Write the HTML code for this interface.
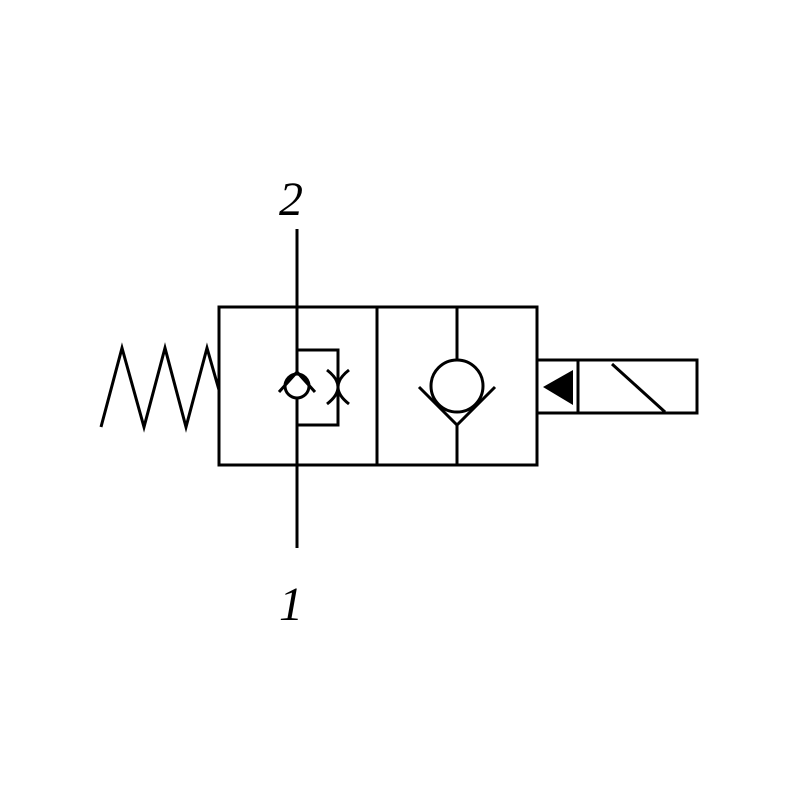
<!DOCTYPE html>
<html><head><meta charset="utf-8"><style>
html,body{margin:0;padding:0;background:#fff;}
svg{display:block;}
</style></head><body>
<svg width="800" height="800" viewBox="0 0 800 800" xmlns="http://www.w3.org/2000/svg">
<g fill="none" stroke="#000" stroke-width="3">
  <line x1="297" y1="229" x2="297" y2="548"/>
  <rect x="219" y="307" width="318" height="158"/>
  <line x1="377" y1="307" x2="377" y2="465"/>
  <polyline points="101,427 122,348 144,427 165,348 186,427 207,348 219,390"/>
  <circle cx="297" cy="386" r="12" fill="#fff"/>
  <polyline points="279,392 297,372 315,392"/>
  <polyline points="297,350 338,350 338,425 297,425"/>
  <path d="M327,370 Q349,387 327,404"/>
  <path d="M349,370 Q327,387 349,404"/>
  <line x1="457" y1="307" x2="457" y2="360"/>
  <line x1="457" y1="425" x2="457" y2="465"/>
  <circle cx="457" cy="386" r="26"/>
  <polyline points="419,387 457,425 495,387"/>
  <rect x="537" y="360" width="160" height="53"/>
  <line x1="578" y1="360" x2="578" y2="413"/>
  <line x1="612" y1="364" x2="665" y2="412"/>
</g>
<polygon points="573,370 573,405 543,387" fill="#000"/>
<g font-family="'Liberation Serif', serif" font-style="italic" font-size="48" fill="#000" text-anchor="middle">
  <text x="291" y="215">2</text>
  <text x="291" y="620">1</text>
</g>
</svg>
</body></html>
